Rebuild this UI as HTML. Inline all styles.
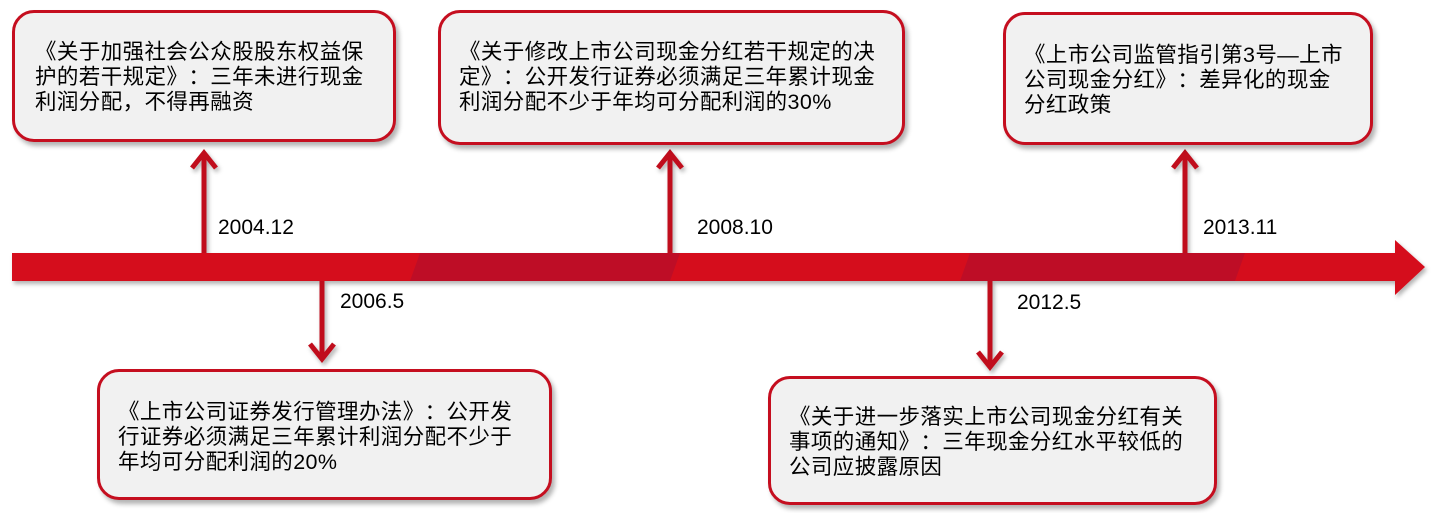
<!DOCTYPE html>
<html><head><meta charset="utf-8"><style>
body{margin:0;width:1440px;height:513px;background:#fff;position:relative;overflow:hidden;font-family:"Liberation Sans","Noto Sans CJK SC",sans-serif;}
.box{position:absolute;box-sizing:border-box;border:3px solid #c50e1f;border-radius:22px;background:#f1f1f1;box-shadow:3px 4px 5px rgba(0,0,0,.3);font-size:21.5px;line-height:25px;color:#000;padding:0 14px;white-space:nowrap;letter-spacing:0.4px;}
.lbl{position:absolute;font-size:21px;color:#000;}
.s{letter-spacing:-6px}
</style></head><body>
<svg width="1440" height="513" style="position:absolute;left:0;top:0">
<defs><filter id="s"><feDropShadow dx="2" dy="3" stdDeviation="2" flood-opacity=".3"/></filter></defs>
<g filter="url(#s)">
<polygon points="12,253 1395,253 1395,240 1425,267 1395,295 1395,281 12,281" fill="#d50f1d"/>
<polygon points="420,253 680,253 670,281 410,281" fill="#be0f26"/>
<polygon points="970,253 1245,253 1235,281 960,281" fill="#be0f26"/>
<g stroke="#c00d1c" stroke-width="5" fill="none">
<line x1="204" y1="253" x2="204" y2="152"/><polyline points="192,168 204,153 216,168"/>
<line x1="670" y1="253" x2="670" y2="152"/><polyline points="658,168 670,153 682,168"/>
<line x1="1185" y1="253" x2="1185" y2="152"/><polyline points="1173,168 1185,153 1197,168"/>
<line x1="322" y1="281" x2="322" y2="360"/><polyline points="310,344 322,359 334,344"/>
<line x1="990" y1="281" x2="990" y2="368"/><polyline points="978,352 990,367 1002,352"/>
</g></g>
</svg>
<div class="lbl" style="left:218px;top:216px">2004.12</div>
<div class="lbl" style="left:697px;top:216px">2008.10</div>
<div class="lbl" style="left:1203px;top:216px">2013.11</div>
<div class="lbl" style="left:340px;top:290px">2006.5</div>
<div class="lbl" style="left:1017px;top:291px">2012.5</div>
<div class="box" style="left:12px;top:10px;width:384px;height:132px;padding-top:27px;padding-left:20px">《关于加强社会公众股股东权益保<br>护的若干规定》<span class="s"> </span>：三年未进行现金<br>利润分配，不得再融资</div>
<div class="box" style="left:438px;top:10px;width:467px;height:135px;padding-top:27px;padding-left:18px">《关于修改上市公司现金分红若干规定的决<br>定》<span class="s"> </span>：公开发行证券必须满足三年累计现金<br>利润分配不少于年均可分配利润的30%</div>
<div class="box" style="left:1003px;top:12px;width:370px;height:133px;padding-top:28px;padding-left:18px">《上市公司监管指引第3号—上市<br>公司现金分红》<span class="s"> </span>：差异化的现金<br>分红政策</div>
<div class="box" style="left:97px;top:369px;width:455px;height:131px;padding-top:28px;padding-left:18px">《上市公司证券发行管理办法》<span class="s"> </span>：公开发<br>行证券必须满足三年累计利润分配不少于<br>年均可分配利润的20%</div>
<div class="box" style="left:768px;top:376px;width:449px;height:129px;padding-top:26px;padding-left:18px">《关于进一步落实上市公司现金分红有关<br>事项的通知》<span class="s"> </span>：三年现金分红水平较低的<br>公司应披露原因</div>
</body></html>
